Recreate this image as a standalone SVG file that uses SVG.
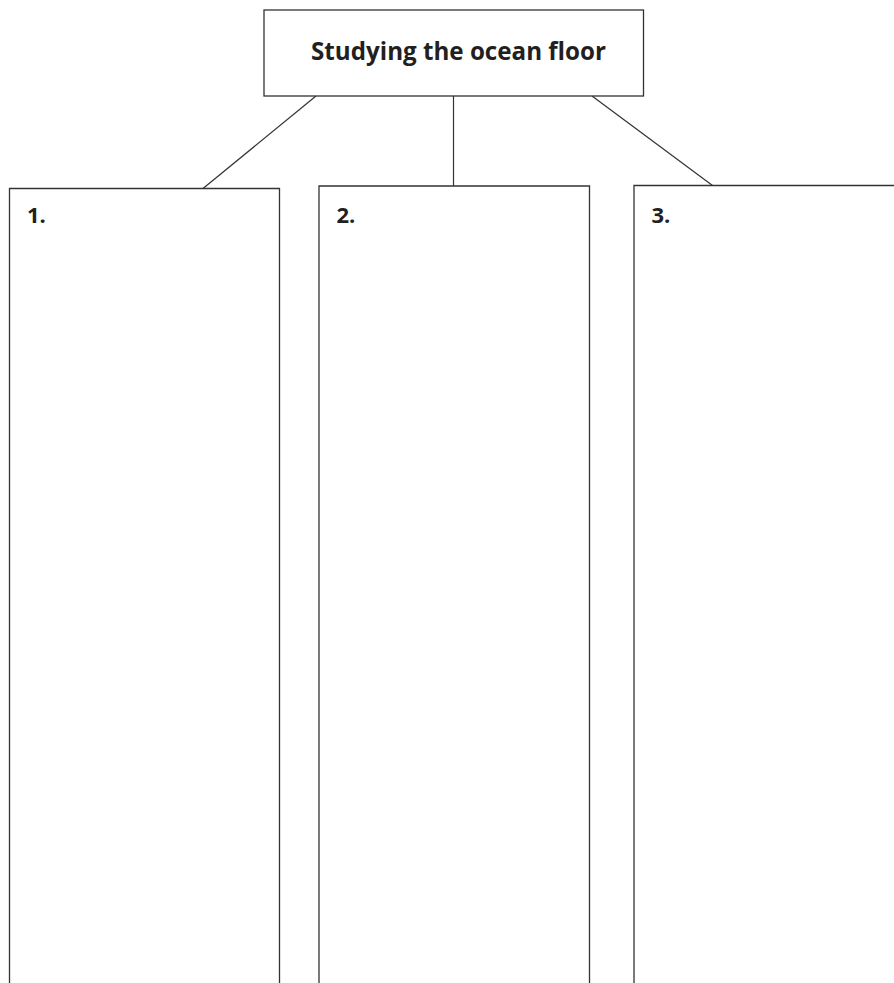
<svg xmlns="http://www.w3.org/2000/svg" width="894" height="983" viewBox="0 0 894 983">
<style>
.box{fill:#fff;stroke:#333;stroke-width:1.3}
.conn{stroke:#333;stroke-width:1.2;fill:none}
.t{font-family:"Open Sans","Liberation Sans",Arial,sans-serif;font-weight:bold;fill:#231f20}
</style>
<rect width="894" height="983" fill="#fff"/>
<g id="connectors">
<line class="conn" x1="316" y1="96" x2="203" y2="188.5"/>
<line class="conn" x1="453.5" y1="96" x2="453.5" y2="186"/>
<line class="conn" x1="592" y1="96" x2="712.5" y2="185.5"/>
</g>
<g id="title">
<rect class="box" x="264" y="10" width="379.5" height="86"/>
<text class="t" x="458.5" y="60" font-size="25" text-anchor="middle" textLength="295" lengthAdjust="spacingAndGlyphs">Studying the ocean floor</text>
</g>
<g id="box1">
<path class="box" d="M9.5 984 V188.5 H279.5 V984"/>
<text class="t" x="27" y="222.5" font-size="22">1.</text>
</g>
<g id="box2">
<path class="box" d="M319 984 V186 H589.5 V984"/>
<text class="t" x="336.5" y="222.5" font-size="22">2.</text>
</g>
<g id="box3">
<path class="box" d="M634 984 V185.5 H895"/>
<text class="t" x="651.5" y="222.5" font-size="22">3.</text>
</g>
</svg>
